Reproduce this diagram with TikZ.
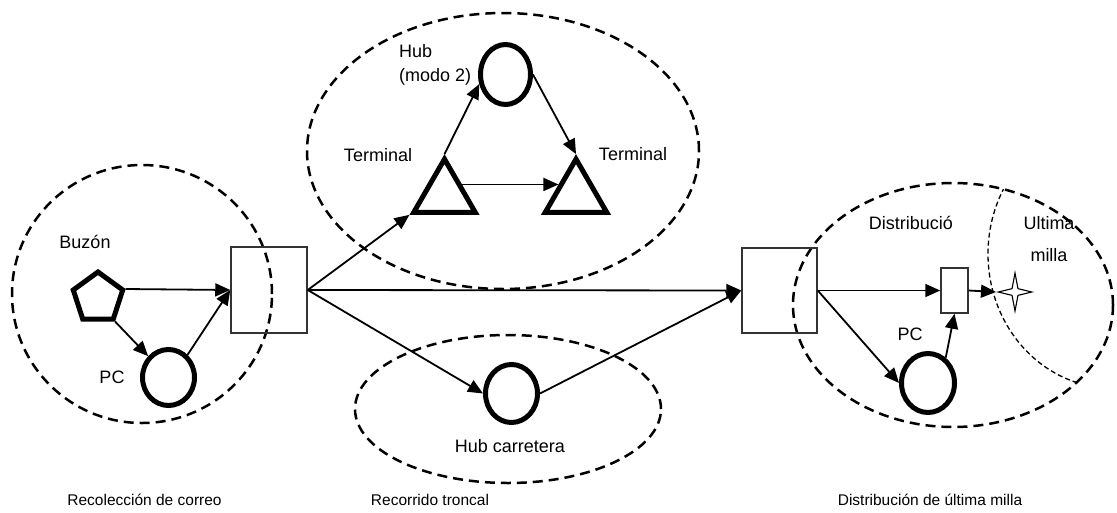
\documentclass[tikz,border=0pt]{standalone}
\usepackage{fontspec}
\setmainfont{Liberation Sans}
\usetikzlibrary{shapes.geometric,arrows.meta}

\begin{document}
\begin{tikzpicture}[x=1pt,y=-1pt,
  region/.style={line width=2.5pt, dash pattern=on 10pt off 6pt},
  subregion/.style={line width=1.3pt, dash pattern=on 5pt off 3pt},
  hubnode/.style={ellipse, draw, line width=5pt, inner sep=0pt},
  term/.style={regular polygon, regular polygon sides=3, draw, line width=5pt,
               minimum size=71pt, inner sep=0pt},
  stn/.style={rectangle, draw=black!80, line width=1.5pt, inner sep=0pt},
  arr/.style={line width=1.8pt, -{Triangle[length=15pt,width=13pt]}},
  lbl/.style={font=\fontsize{18}{24}\selectfont, inner sep=0pt},
  caption/.style={font=\fontsize{15.5}{18}\selectfont, inner sep=0pt}]

\useasboundingbox (0,0) rectangle (1117,512);

% service areas
\draw[region] (142,294) ellipse [x radius=130pt, y radius=129pt];
\draw[region] (503,151) ellipse [x radius=196pt, y radius=138pt];
\draw[region] (508,409) ellipse [x radius=153pt, y radius=74pt];
\draw[region] (953,305) ellipse [x radius=160pt, y radius=122pt];
\begin{scope}
  \clip (953,305) ellipse [x radius=160pt, y radius=122pt];
  \draw[subregion] (1112,254) ellipse [x radius=124pt, y radius=134pt];
\end{scope}

% facilities
\node[regular polygon, regular polygon sides=5, draw, line width=5pt,
      minimum size=52pt, inner sep=0pt] (buzon) at (98,298) {};
\node[hubnode, minimum width=52pt, minimum height=56pt] (pcL) at (168.5,377.5) {};
\node[stn, minimum width=76pt, minimum height=86pt] (box1) at (269,290) {};
\node[hubnode, minimum width=50pt, minimum height=60pt] (hubT) at (505.5,74.5) {};
\node[term] (tl) at (444.5,194.6) {};
\node[term] (tr) at (576,194.6) {};
\node[hubnode, minimum width=52pt, minimum height=58pt] (hubR) at (511.5,393.5) {};
\node[stn, minimum width=75pt, minimum height=85pt] (box2) at (779.5,290.5) {};
\node[stn, minimum width=27pt, minimum height=45pt] (box3) at (954.5,290.5) {};
\node[hubnode, minimum width=53pt, minimum height=59pt] (pcR) at (928,383) {};
\node[star, star points=4, star point ratio=4, draw, line width=1.1pt, fill=white,
      minimum size=38pt, inner sep=0pt, xscale=0.88] (dest) at (1015,292) {};

% flows
\draw[arr] (buzon.corner 5) -- (box1.west);
\draw[arr] (buzon.corner 4) -- (pcL);
\draw[arr] (pcL.50) -- (box1.west);
\draw[arr] (box1.east) -- (tl.corner 2);
\draw[arr] (tl.corner 1) -- (hubT.200);
\draw[arr] (hubT.east) -- (tr.corner 1);
\draw[arr] (tl.side 3) -- (tr.side 1);
\draw[arr] (box1.east) -- (box2.west);
\draw[arr] (box1.east) -- (hubR.west);
\draw[arr] (hubR.east) -- (box2.west);
\draw[arr] (box2.east) -- (box3.west);
\draw[arr] (box2.east) -- (pcR.west);
\draw[arr] (pcR.55) -- (box3.south);
\draw[arr] (box3.east) -- (dest.west);

% labels
\node[lbl] (lbuzon) at (85,242) {Buzón};
\node[lbl] (lpcL) at (112,377) {PC};
\node[lbl, anchor=west, align=left] (lhub) at (399,65) {Hub\\(modo 2)};
\node[lbl] (lterm1) at (378,155) {Terminal};
\node[lbl] (lterm2) at (633,154) {Terminal};
\node[lbl] (lhubr) at (510,446) {Hub carretera};
\node[lbl] (ldist) at (911,223) {Distribució};
\node[lbl, align=center, font=\fontsize{18}{32}\selectfont] (lult) at (1049,239) {Ultima\\milla};
\node[lbl] (lpcR) at (910,334) {PC};

\node[caption] (c1) at (144.5,500) {Recolección de correo};
\node[caption] (c2) at (430,500) {Recorrido troncal};
\node[caption] (c3) at (930,500) {Distribución de última milla};
\end{tikzpicture}
\end{document}
